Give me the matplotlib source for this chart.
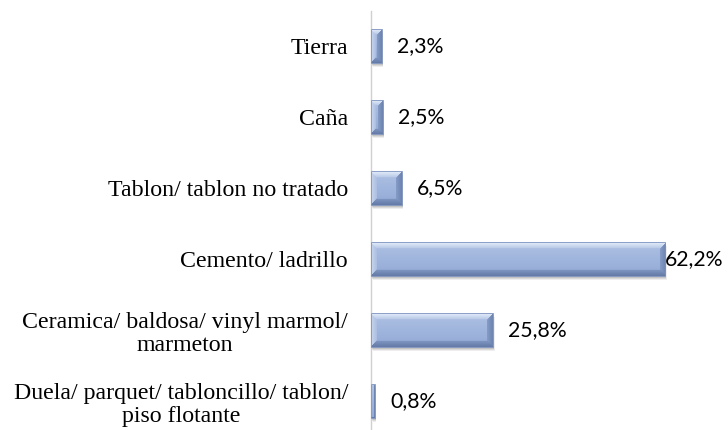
import matplotlib
matplotlib.use("Agg")
import matplotlib.pyplot as plt
import numpy as np
from matplotlib.colors import to_rgb
import matplotlib.transforms as mtransforms

categories = ["Tierra", "Caña", "Tablon/ tablon no tratado", "Cemento/ ladrillo",
              "Ceramica/ baldosa/ vinyl marmol/\nmarmeton",
              "Duela/ parquet/ tabloncillo/ tablon/\npiso flotante"]
values = [2.3, 2.5, 6.5, 62.2, 25.8, 0.8]
value_labels = ["2,3%", "2,5%", "6,5%", "62,2%", "25,8%", "0,8%"]

W, H = 728, 430
fig = plt.figure(figsize=(W / 100, H / 100), dpi=100)
ax_left, ax_top = 371, 11
ax = fig.add_axes([ax_left / W, 0, (W - ax_left) / W, (H - ax_top) / H])
XMAX = (W - ax_left) / 4.727
YLO, YHI = (430 - 46) / 71, (11 - 46) / 71
ax.set_xlim(0, XMAX)
ax.set_ylim(YLO, YHI)

y = np.arange(len(categories))
bh = 0.47
px_per_x = (W - ax_left) / XMAX
px_per_y = (H - ax_top) / (YLO - YHI)


def bevel_image(pw, ph, b=6):
    pw = max(int(round(pw)), 1)
    ph = max(int(round(ph)), 1)
    rows = np.arange(ph).reshape(-1, 1) * np.ones((1, pw))
    cols = np.ones((ph, 1)) * np.arange(pw).reshape(1, -1)
    t = rows / max(ph - 1, 1)
    c_top = np.array(to_rgb("#aec1e4"))
    c_bot = np.array(to_rgb("#93aad6"))
    img = c_top[None, None, :] * (1 - t[..., None]) + c_bot[None, None, :] * t[..., None]
    dt, db, dl, dr = rows, ph - 1 - rows, cols, pw - 1 - cols
    d = np.stack([dt, db, dl, dr])
    face = np.argmin(d, axis=0)
    dmin = np.min(d, axis=0)
    bev = dmin < b
    frac = (dmin / b)[..., None]
    cols_face = {
        0: (np.array(to_rgb("#e3ebf8")), np.array(to_rgb("#b4c6e6"))),
        1: (np.array(to_rgb("#667ca8")), np.array(to_rgb("#8198c4"))),
        2: (np.array(to_rgb("#c6d4ee")), np.array(to_rgb("#a9bce0"))),
        3: (np.array(to_rgb("#6f85b1")), np.array(to_rgb("#889fca"))),
    }
    for f, (c_out, c_in) in cols_face.items():
        m = bev & (face == f)
        col = c_out[None, None, :] * (1 - frac) + c_in[None, None, :] * frac
        img[m] = col[m]
    return img


# soft shadows
for k, alpha in [(4.0, 0.10), (3.0, 0.14), (2.0, 0.18)]:
    off = mtransforms.offset_copy(ax.transData, fig=fig, x=k * 0.4, y=-k, units="dots")
    ax.barh(y, values, height=bh, color="#606060", alpha=alpha, transform=off, zorder=1, linewidth=0)

bars = ax.barh(y, values, height=bh, color="#94acd8", linewidth=0, zorder=2)
for b in bars:
    x0, y0 = b.get_x(), b.get_y()
    w, h = b.get_width(), b.get_height()
    pw, ph = w * px_per_x, h * px_per_y
    bw = min(6, max(1, int(min(pw, ph) / 2)))
    img = bevel_image(pw, ph, bw)
    ax.imshow(img, aspect="auto", extent=(x0, x0 + w, y0 + h, y0), zorder=3,
              interpolation="bilinear")
    ax.add_patch(plt.Rectangle((x0, y0), w, h, fill=False, edgecolor="#7d93bf",
                               linewidth=0.6, zorder=4))

for yi, v, lab in zip(y, values, value_labels):
    off = 0 if v > 50 else 11
    ax.annotate(lab, xy=(v, yi), xytext=(off, 0), textcoords="offset points",
                ha="left", va="center", fontsize=15.3, family="Lato", color="#000000", zorder=5)

ax.set_xlim(0, XMAX)
ax.set_ylim(YLO, YHI)
ax.set_yticks(y)
ax.set_yticklabels(categories, family="Liberation Serif", fontsize=17.2, multialignment="center",
                   linespacing=1.15)
ax.tick_params(axis="y", length=0, pad=16.5)
ax.set_xticks([])
for s in ["top", "right", "bottom"]:
    ax.spines[s].set_visible(False)
ax.spines["left"].set_color("#d0d0d0")
ax.spines["left"].set_linewidth(1.0)
ax.set_facecolor("none")

fig.savefig("out.png", dpi=100)
